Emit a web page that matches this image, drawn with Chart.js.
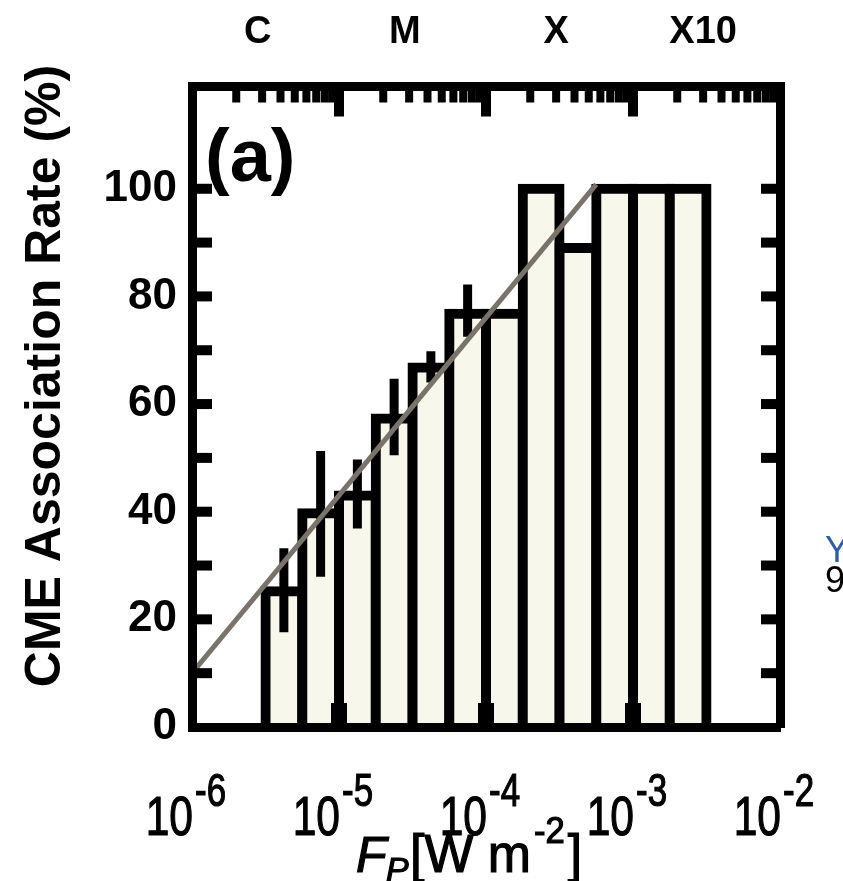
<!DOCTYPE html>
<html lang="en">
<head>
<meta charset="UTF-8">
<title>CME association rate vs peak flux</title>
<script src="https://cdn.jsdelivr.net/npm/chart.js"></script>
<style>
  html, body { margin: 0; padding: 0; background: #fff; }
</style>
</head>
<body>
<canvas id="rateChart" width="843" height="881"></canvas>
<script>
// bin centres as log10(F_P), bins are 0.25 dex wide
const binCentersLog = [-5.375, -5.125, -4.875, -4.625, -4.375, -4.125, -3.875, -3.625, -3.375, -3.125, -2.875, -2.625];
const rates = [25.2, 39.7, 43.0, 57.3, 66.8, 76.8, 76.8, 100, 89.0, 100, 100, 100];
const errLow = [17.6, 27.9, 36.9, 50.5, 64.0, 72.5, null, null, null, null, null, null];
const errHigh = [33.2, 51.3, 49.7, 64.7, 69.8, 82.2, null, null, null, null, null, null];

// fitted line, end points
const fitFlux = [1e-6, 5.62e-4];
const fitRate = [10, 100.8];

const xDecades = [-6, -5, -4, -3, -2];
const yLabelValues = [0, 20, 40, 60, 80, 100];
const yTickMarks = [10, 20, 30, 40, 50, 60, 70, 80, 90, 100];
const classLabels = ['C', 'M', 'X', 'X10'];
const classFlux = [2.8e-6, 2.8e-5, 3e-4, 3e-3];

const FONT = '"Liberation Sans", Arial, Helvetica, sans-serif';

const barData = binCentersLog.map((c, i) => ({ x: Math.pow(10, c), y: rates[i] }));
const errData = [];
binCentersLog.forEach((c, i) => {
    if (errLow[i] != null) errData.push({ x: Math.pow(10, c), y: [errLow[i], errHigh[i]] });
});
const fitData = fitFlux.map((f, i) => ({ x: f, y: fitRate[i] }));

function drawText(ctx, txt, x, y, font, sx, align) {
    ctx.save();
    ctx.translate(x, y);
    ctx.scale(sx, 1);
    ctx.font = font;
    ctx.textAlign = align || 'left';
    ctx.lineWidth = 1.2;
    ctx.strokeStyle = ctx.fillStyle;
    ctx.fillText(txt, 0, 0);
    ctx.strokeText(txt, 0, 0);
    const w = ctx.measureText(txt).width * sx;
    ctx.restore();
    return w;
}

// inward tick marks on all four sides, plus the free text
const frameTicks = {
    id: 'frameTicks',
    afterDatasetsDraw(chart) {
        const { ctx, chartArea: a, scales: { x, y } } = chart;
        ctx.save();
        ctx.fillStyle = '#000';
        yTickMarks.forEach(v => {
            const py = y.getPixelForValue(v);
            ctx.fillRect(a.left, py - 5, 20, 10);
            ctx.fillRect(a.right - 19, py - 5, 19, 10);
        });
        xDecades.forEach(e => {
            const px = x.getPixelForValue(Math.pow(10, e));
            if (e > -6 && e < -2) {
                ctx.fillRect(px - 5, a.top, 10, 30);
                ctx.fillRect(px - 8, a.bottom - 24, 16, 24);
            }
            if (e < -2) {
                for (let m = 2; m < 10; m++) {
                    const pm = x.getPixelForValue(m * Math.pow(10, e));
                    ctx.fillRect(pm - 4, a.top, 8, 16);
                }
            }
        });
        ctx.restore();
    },
    afterDraw(chart) {
        const { ctx, scales: { x } } = chart;
        ctx.save();
        ctx.fillStyle = '#000';

        // panel label
        ctx.font = 'bold 74px ' + FONT;
        ctx.textAlign = 'left';
        ctx.textBaseline = 'alphabetic';
        ctx.fillText('(a)', 205, 181);

        // y title
        ctx.save();
        ctx.translate(60, 376);
        ctx.rotate(-Math.PI / 2);
        ctx.font = 'bold 50px ' + FONT;
        ctx.textAlign = 'center';
        ctx.fillText('CME Association Rate (%)', 0, 0);
        ctx.restore();

        // x tick labels 10^n
        xDecades.forEach(e => {
            const px = x.getPixelForValue(Math.pow(10, e));
            drawText(ctx, '10', px + 1, 835, '56px ' + FONT, 0.76, 'right');
            drawText(ctx, String(e), px + 3, 806, '46px ' + FONT, 0.76, 'left');
        });

        // x title: F_P [W m^-2]
        drawText(ctx, 'F', 356, 872, 'italic 50px ' + FONT, 1, 'left');
        drawText(ctx, 'P', 386, 881, 'italic 34px ' + FONT, 1, 'left');
        let cx = 410;
        cx += drawText(ctx, '[W m', cx, 872, '54px ' + FONT, 0.96, 'left') + 3;
        cx += drawText(ctx, '-2', cx, 843, '36px ' + FONT, 0.96, 'left') + 3;
        drawText(ctx, ']', cx, 872, '54px ' + FONT, 0.96, 'left');

        // text cut off at the right edge of the page
        ctx.font = '36px ' + FONT;
        ctx.fillStyle = '#2d5fa6';
        ctx.fillText('Y', 825, 562);
        ctx.fillStyle = '#000';
        ctx.fillText('9', 825, 592);
        ctx.restore();
    }
};

const borderOpts = { display: true, color: '#000', width: 9, z: 1 };

new Chart(document.getElementById('rateChart'), {
    type: 'bar',
    data: {
        datasets: [
            {
                type: 'line',
                data: fitData,
                borderColor: '#7a736b',
                borderWidth: 5,
                pointRadius: 0,
                order: 1
            },
            {
                data: errData,
                backgroundColor: '#000',
                borderWidth: 0,
                barThickness: 9,
                grouped: false,
                inflateAmount: 0,
                order: 2
            },
            {
                data: barData,
                backgroundColor: '#f7f7eb',
                borderColor: '#000',
                borderWidth: 10,
                inflateAmount: 5,
                barPercentage: 1,
                categoryPercentage: 1,
                grouped: false,
                order: 3
            }
        ]
    },
    options: {
        responsive: false,
        animation: false,
        devicePixelRatio: 1,
        layout: { padding: 0 },
        plugins: { legend: { display: false }, tooltip: { enabled: false } },
        scales: {
            x: {
                type: 'logarithmic',
                position: 'bottom',
                min: 1e-6,
                max: 1e-2,
                offset: false,
                grid: { display: false, drawTicks: false },
                border: borderOpts,
                afterBuildTicks: s => { s.ticks = xDecades.map(e => ({ value: Math.pow(10, e) })); },
                ticks: { display: false },
                afterFit: s => { s.height = 154; }
            },
            xTop: {
                type: 'logarithmic',
                position: 'top',
                min: 1e-6,
                max: 1e-2,
                offset: false,
                grid: { display: false, drawTicks: false },
                border: borderOpts,
                afterBuildTicks: s => { s.ticks = classFlux.map(v => ({ value: v })); },
                ticks: {
                    autoSkip: false,
                    maxRotation: 0,
                    padding: 31,
                    color: '#000',
                    font: { family: FONT, size: 38, weight: 'bold' },
                    callback: (v, i) => classLabels[i]
                },
                afterFit: s => { s.height = 86.5; }
            },
            y: {
                type: 'linear',
                position: 'left',
                min: 0,
                max: 119,
                grid: { display: false, drawTicks: false },
                border: borderOpts,
                afterBuildTicks: s => { s.ticks = yLabelValues.map(v => ({ value: v })); },
                ticks: {
                    padding: 15,
                    color: '#000',
                    font: { family: FONT, size: 44, weight: 'bold' }
                },
                afterFit: s => { s.width = 192; }
            },
            yRight: {
                type: 'linear',
                position: 'right',
                min: 0,
                max: 119,
                grid: { display: false, drawTicks: false },
                border: borderOpts,
                ticks: { display: false },
                afterFit: s => { s.width = 63; }
            }
        }
    },
    plugins: [frameTicks]
});
</script>
</body>
</html>
